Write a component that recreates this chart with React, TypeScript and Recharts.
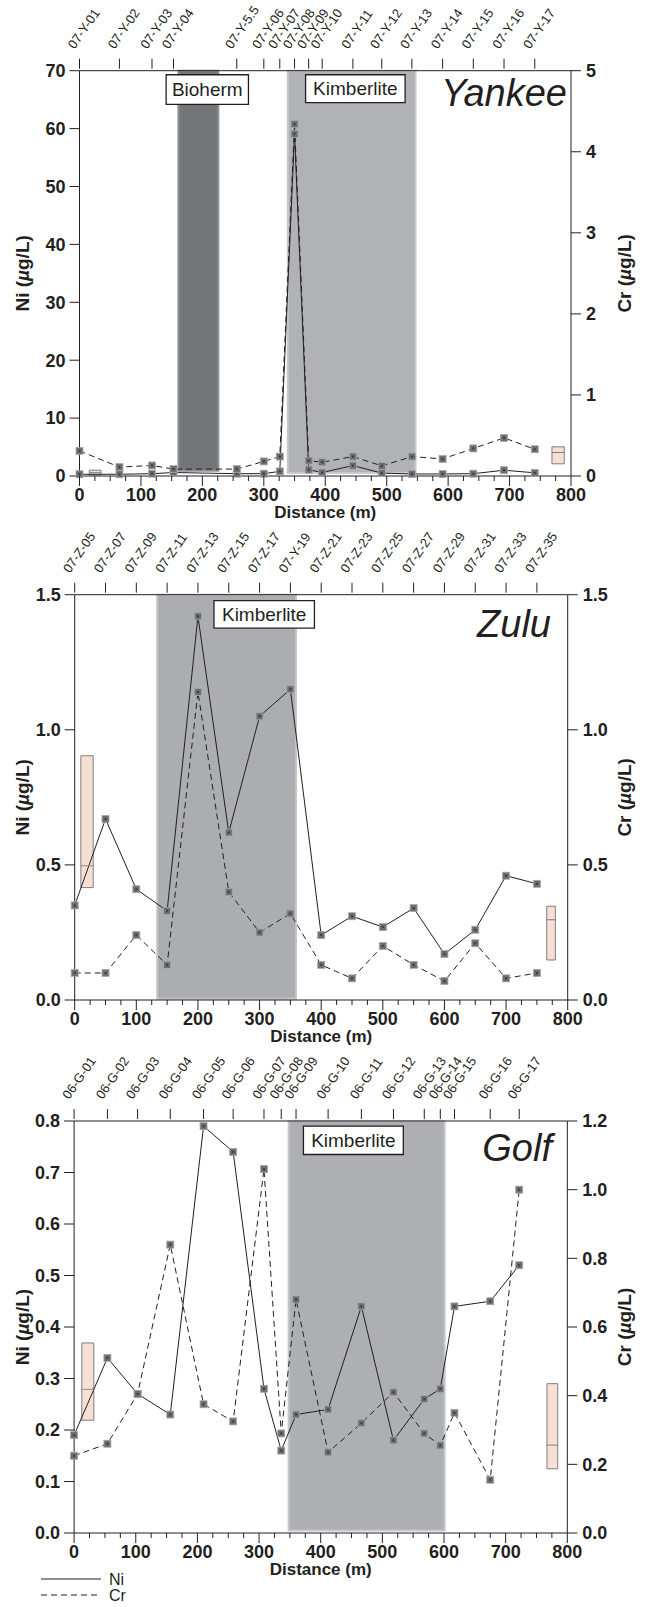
import React from 'react'
import { ComposedChart, Line, XAxis, YAxis, ReferenceArea, ReferenceLine } from 'recharts'

const FONT = '"Liberation Sans", Arial, Helvetica, sans-serif'
const INK = '#231f20'

// distance ticks for the bottom axes (major every 100 m, minor every 25 m)
const xTicks = [0, 25, 50, 75, 100, 125, 150, 175, 200, 225, 250, 275, 300, 325, 350, 375, 400,
  425, 450, 475, 500, 525, 550, 575, 600, 625, 650, 675, 700, 725, 750, 775, 800]

// Yankee
const yankeeDist = [0, 65, 118, 153, 256, 300, 326, 350, 373, 395, 445, 492, 541, 591, 641, 691, 741]
const yankeeSamples = ['07-Y-01', '07-Y-02', '07-Y-03', '07-Y-04', '07-Y-5.5', '07-Y-06', '07-Y-07', '07-Y-08',
  '07-Y-09', '07-Y-10', '07-Y-11', '07-Y-12', '07-Y-13', '07-Y-14', '07-Y-15', '07-Y-16', '07-Y-17']
const yankeeNi = [0.3, 0.3, 0.4, 0.6, 0.4, 0.4, 0.8, 59.1, 1.1, 0.6, 1.8, 0.5, 0.35, 0.35, 0.4, 1.0, 0.55]
const yankeeCr = [0.31, 0.11, 0.13, 0.085, 0.085, 0.18, 0.24, 4.34, 0.19, 0.17, 0.24, 0.125, 0.24, 0.21, 0.34, 0.47, 0.33]

// Zulu
const zuluDist = [0, 50, 100, 150, 200, 250, 300, 350, 400, 450, 500, 550, 600, 650, 700, 750]
const zuluSamples = ['07-Z-05', '07-Z-07', '07-Z-09', '07-Z-11', '07-Z-13', '07-Z-15', '07-Z-17', '07-Y-19',
  '07-Z-21', '07-Z-23', '07-Z-25', '07-Z-27', '07-Z-29', '07-Z-31', '07-Z-33', '07-Z-35']
const zuluNi = [0.35, 0.67, 0.41, 0.33, 1.42, 0.62, 1.05, 1.15, 0.24, 0.31, 0.27, 0.34, 0.17, 0.26, 0.46, 0.43]
const zuluCr = [0.10, 0.10, 0.24, 0.13, 1.14, 0.40, 0.25, 0.32, 0.13, 0.08, 0.20, 0.13, 0.07, 0.21, 0.08, 0.10]

// Golf
const golfDist = [0, 54, 103, 156, 210, 258, 308, 336, 360, 412, 466, 518, 568, 594, 617, 675, 722]
const golfSamples = ['06-G-01', '06-G-02', '06-G-03', '06-G-04', '06-G-05', '06-G-06', '06-G-07', '06-G-08',
  '06-G-09', '06-G-10', '06-G-11', '06-G-12', '06-G-13', '06-G-14', '06-G-15', '06-G-16', '06-G-17']
const golfNi = [0.19, 0.34, 0.27, 0.23, 0.79, 0.74, 0.28, 0.16, 0.23, 0.24, 0.44, 0.18, 0.26, 0.28, 0.44, 0.45, 0.52]
const golfCr = [0.225, 0.26, 0.405, 0.84, 0.375, 0.325, 1.06, 0.29, 0.68, 0.235, 0.32, 0.41, 0.29, 0.255, 0.35, 0.155, 1.0]

const Square = (props: any) => {
  const { cx, cy } = props
  if (cx == null || cy == null) return null
  return (
    <g>
      <rect x={cx - 3.5} y={cy - 3.5} width={7} height={7} fill="#6d6e71" stroke="#a7a9ac" strokeWidth={0.8} />
      <rect x={cx - 1} y={cy - 1} width={2} height={2} fill="#3b3b3d" />
    </g>
  )
}

const BottomTick = (props: any) => {
  const { x, y, payload } = props
  const v = payload.value
  const major = v % 100 === 0
  return (
    <g>
      <line x1={x} x2={x} y1={y} y2={y + (major ? 10 : 5)} stroke={INK} />
      {major && (
        <text x={x} y={y + 25} textAnchor="middle" fontSize={18} fontWeight={700} fill={INK} fontFamily={FONT}>
          {v}
        </text>
      )}
    </g>
  )
}

const makeTopTick = (dists: number[], labels: string[]) => (props: any) => {
  const { x, y, payload } = props
  const label = labels[dists.indexOf(payload.value)]
  const tx = x - 5
  const ty = y - 21
  return (
    <g>
      <line x1={x} x2={x} y1={y - 2} y2={y - 12} stroke={INK} />
      <text x={tx} y={ty} transform={`rotate(-55 ${tx} ${ty})`} fontSize={13} fill={INK} fontFamily={FONT}>
        {label}
      </text>
    </g>
  )
}

const tickStyle = { fill: INK, fontSize: 18, fontWeight: 700, fontFamily: FONT }
const pink = { fill: '#f4dacc', fillOpacity: 0.85, stroke: '#7d7e81', strokeWidth: 1 }
const boxLabel = (value: string) => ({ value, position: 'center' as const, fill: INK, fontSize: 19, fontFamily: FONT })

function Panel(p: any) {
  const data = p.dist.map((d: number, i: number) => ({ d, ni: p.ni[i], cr: p.cr[i] }))
  const height = p.topH + p.plotH + 46
  return (
    <div style={{ position: 'absolute', left: 0, top: p.top }}>
      <ComposedChart width={645} height={height} data={data} margin={{ top: 0, right: 0, bottom: 0, left: 0 }}>
        <XAxis xAxisId="b" dataKey="d" type="number" domain={[0, 800]} ticks={xTicks} interval={0}
          tick={<BottomTick />} tickLine={false} tickSize={0} tickMargin={0} height={46} stroke={INK} />
        <XAxis xAxisId="t" dataKey="d" orientation="top" type="number" scale="linear" domain={[0, 800]}
          allowDataOverflow ticks={p.dist} interval={0}
          tick={makeTopTick(p.dist, p.samples)} tickLine={false} tickSize={0} tickMargin={0} height={p.topH} stroke={INK} />
        <YAxis yAxisId="ni" type="number" domain={p.niDomain} ticks={p.niTicks} interval={0} width={p.leftW}
          tickSize={10} tickMargin={4} stroke={INK} tick={tickStyle} tickFormatter={p.niFmt} />
        <YAxis yAxisId="cr" orientation="right" type="number" domain={p.crDomain} ticks={p.crTicks} interval={0}
          width={645 - p.rightX} tickSize={10} tickMargin={5} stroke={INK} tick={tickStyle} tickFormatter={p.crFmt} />
        {p.bands.map((b: any, i: number) => (
          <ReferenceArea key={'b' + i} xAxisId="b" yAxisId="ni" x1={b.x1} x2={b.x2} y1={b.y1} y2={b.y2}
            fill={b.fill} fillOpacity={1} stroke={b.edge} strokeWidth={2} />
        ))}
        {p.labels.map((b: any, i: number) => (
          <ReferenceArea key={'l' + i} xAxisId="b" yAxisId="ni" x1={b.x1} x2={b.x2} y1={b.y1} y2={b.y2}
            fill="#ffffff" fillOpacity={1} stroke={INK} strokeWidth={1.3} label={boxLabel(b.text)} />
        ))}
        <Line xAxisId="b" yAxisId="ni" dataKey="ni" type="linear" stroke={INK} strokeWidth={1}
          dot={<Square />} activeDot={false} isAnimationActive={false} />
        <Line xAxisId="b" yAxisId="cr" dataKey="cr" type="linear" stroke={INK} strokeWidth={1} strokeDasharray="6 4"
          dot={<Square />} activeDot={false} isAnimationActive={false} />
        <ReferenceArea xAxisId="b" yAxisId="ni" x1={p.niBox.x1} x2={p.niBox.x2} y1={p.niBox.lo} y2={p.niBox.hi} {...pink} />
        <ReferenceLine xAxisId="b" yAxisId="ni" stroke="#8a8b8e"
          segment={[{ x: p.niBox.x1, y: p.niBox.mid }, { x: p.niBox.x2, y: p.niBox.mid }]} />
        <ReferenceArea xAxisId="b" yAxisId="cr" x1={p.crBox.x1} x2={p.crBox.x2} y1={p.crBox.lo} y2={p.crBox.hi} {...pink} />
        <ReferenceLine xAxisId="b" yAxisId="cr" stroke="#7d7e81"
          segment={[{ x: p.crBox.x1, y: p.crBox.mid }, { x: p.crBox.x2, y: p.crBox.mid }]} />
      </ComposedChart>
    </div>
  )
}

const kimb = '#b0b2b5'
const kimbEdge = '#c8c9cc'

const panels = [
  {
    name: 'Yankee', top: 0, topH: 70.7, plotH: 405.3, leftW: 79.5, rightX: 571,
    dist: yankeeDist, samples: yankeeSamples, ni: yankeeNi, cr: yankeeCr,
    niDomain: [0, 70], niTicks: [0, 10, 20, 30, 40, 50, 60, 70], niFmt: (v: number) => String(v),
    crDomain: [0, 5], crTicks: [0, 1, 2, 3, 4, 5], crFmt: (v: number) => String(v),
    bands: [
      { x1: 161, x2: 226, y1: 0.9, y2: 70, fill: '#747579', edge: '#8e8f93' },
      { x1: 339, x2: 547, y1: 0.5, y2: 70, fill: kimb, edge: kimbEdge },
    ],
    labels: [
      { x1: 141, x2: 275, y1: 64.2, y2: 69.3, text: 'Bioherm' },
      { x1: 368, x2: 530, y1: 64.5, y2: 69.3, text: 'Kimberlite' },
    ],
    niBox: { x1: 16, x2: 35, lo: 0.2, hi: 1.0, mid: 0.6 },
    crBox: { x1: 769, x2: 789, lo: 0.15, hi: 0.36, mid: 0.29 },
    titleX: 567, titleY: 106,
  },
  {
    name: 'Zulu', top: 510, topH: 84.7, plotH: 405.3, leftW: 74.7, rightX: 567.7,
    dist: zuluDist, samples: zuluSamples, ni: zuluNi, cr: zuluCr,
    niDomain: [0, 1.5], niTicks: [0, 0.5, 1, 1.5], niFmt: (v: number) => v.toFixed(1),
    crDomain: [0, 1.5], crTicks: [0, 0.5, 1, 1.5], crFmt: (v: number) => v.toFixed(1),
    bands: [{ x1: 134, x2: 359, y1: 0.005, y2: 1.5, fill: '#abadb0', edge: '#c3c4c7' }],
    labels: [{ x1: 226, x2: 389, y1: 1.376, y2: 1.478, text: 'Kimberlite' }],
    niBox: { x1: 10, x2: 30, lo: 0.416, hi: 0.904, mid: 0.497 },
    crBox: { x1: 766, x2: 780, lo: 0.148, hi: 0.347, mid: 0.297 },
    titleX: 551, titleY: 636.5,
  },
  {
    name: 'Golf', top: 1040, topH: 81, plotH: 412, leftW: 74.1, rightX: 567.3,
    dist: golfDist, samples: golfSamples, ni: golfNi, cr: golfCr,
    niDomain: [0, 0.8], niTicks: [0, 0.1, 0.2, 0.3, 0.4, 0.5, 0.6, 0.7, 0.8], niFmt: (v: number) => v.toFixed(1),
    crDomain: [0, 1.2], crTicks: [0, 0.2, 0.4, 0.6, 0.8, 1.0, 1.2], crFmt: (v: number) => v.toFixed(1),
    bands: [{ x1: 348, x2: 601, y1: 0.005, y2: 0.8, fill: '#adafb2', edge: '#c6c7ca' }],
    labels: [{ x1: 372, x2: 534, y1: 0.735, y2: 0.79, text: 'Kimberlite' }],
    niBox: { x1: 12.5, x2: 32, lo: 0.219, hi: 0.369, mid: 0.279 },
    crBox: { x1: 767, x2: 784.5, lo: 0.187, hi: 0.435, mid: 0.256 },
    titleX: 552, titleY: 1161,
  },
]

const YTitle = ({ x, y, name }: { x: number; y: number; name: string }) => (
  <text x={x + 7} y={y} transform={`rotate(-90 ${x + 7} ${y})`} textAnchor="middle" fontSize={19}
    fontWeight={700} fill={INK} fontFamily={FONT}>
    {name} (<tspan fontStyle="italic">µ</tspan>g/L)
  </text>
)

export default function App() {
  return (
    <div style={{ position: 'absolute', left: 0, top: 0, width: 645, height: 1607, background: '#fff', overflow: 'hidden' }}>
      {panels.map((p) => <Panel key={p.name} {...p} />)}
      <svg width={645} height={1607} style={{ position: 'absolute', left: 0, top: 0, pointerEvents: 'none' }}>
        {panels.map((p) => {
          const plotTop = p.top + p.topH
          const plotBottom = plotTop + p.plotH
          const midY = (plotTop + plotBottom) / 2
          const midX = (p.leftW + p.rightX) / 2
          return (
            <g key={p.name}>
              <text x={p.titleX} y={p.titleY} textAnchor="end" fontSize={38} fontStyle="italic" fill={INK} fontFamily={FONT}>
                {p.name}
              </text>
              <YTitle x={22} y={midY} name="Ni" />
              <YTitle x={624} y={midY} name="Cr" />
              <text x={midX} y={plotBottom + 42} textAnchor="middle" fontSize={17} fontWeight={700} fill={INK} fontFamily={FONT}>
                Distance (m)
              </text>
            </g>
          )
        })}
        <line x1={41} x2={101} y1={1579} y2={1579} stroke={INK} strokeWidth={1} />
        <text x={109} y={1585} fontSize={16} fill={INK} fontFamily={FONT}>Ni</text>
        <line x1={41} x2={101} y1={1595} y2={1595} stroke={INK} strokeWidth={1} strokeDasharray="6 4" />
        <text x={109} y={1601} fontSize={16} fill={INK} fontFamily={FONT}>Cr</text>
      </svg>
    </div>
  )
}
